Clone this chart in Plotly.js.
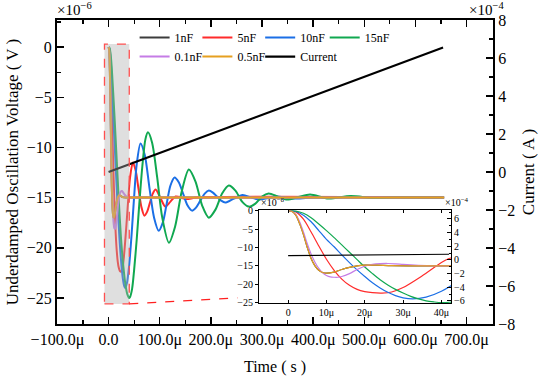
<!DOCTYPE html>
<html>
<head>
<meta charset="utf-8">
<script src="https://cdn.plot.ly/plotly-3.0.1.min.js"></script>
<style>html,body{margin:0;padding:0;background:#fff;}#chart{width:550px;height:380px;}</style>
</head>
<body>
<div id="chart"></div>
<script>
// ---- data (time in µs, voltage in 1e-6 V, current in 1e-4 A) ----
const seriesNames = ["1nF", "5nF", "10nF", "15nF", "0.1nF", "0.5nF"];

const t05 = [0, 1, 2, 3, 4, 5, 6, 7, 8, 9, 10, 12, 14, 16, 18, 20, 23, 27, 35, 50, 656];
const v05 = [0, -0.2, -1.2, -3.5, -6.5, -10, -13, -15, -16.2, -16.8, -17, -16.7, -16, -15.4, -15, -14.8, -14.8, -14.95, -15, -15, -15];

const t1 = [0, 1, 2, 3, 4, 5, 6, 7, 8, 9, 10, 12, 14, 16, 18, 20, 23, 27, 35, 50, 656];
const v1 = [0, -0.2, -1.2, -3.5, -6.5, -10, -13, -15, -16.2, -16.8, -17, -16.7, -16, -15.4, -15, -14.8, -14.8, -14.95, -15, -15, -15];

const t01 = [0, 1, 2, 3, 4, 5, 6, 7, 8, 9, 10, 11, 12, 13, 14, 16, 18, 20, 22, 24, 26, 28, 30, 34, 38, 42, 60, 656];
const v01 = [0, -0.2, -1, -3, -5.8, -9, -11.8, -14, -15.7, -16.9, -17.6, -18, -18.1, -18.1, -17.9, -17.1, -16, -15.1, -14.6, -14.4, -14.35, -14.45, -14.6, -14.85, -15, -15, -15, -15];

const t5 = [0, 2, 4, 6, 8, 10, 12, 14, 16, 18, 20, 22, 24.5, 27, 30, 35, 40, 42, 47.5, 53, 58.5, 64.5, 70, 75.5, 81, 86.5, 92, 101.5, 111, 121, 131, 152, 173, 656];
const v5 = [0, -0.3, -2.3, -5.8, -9.6, -13.2, -16.2, -18.6, -20.3, -21.4, -22, -22.3, -22.4, -22.1, -20.9, -17.7, -14.1, -13, -11.5, -12.3, -14.1, -16, -16.8, -16.4, -15.5, -14.6, -14.2, -15.05, -15.9, -15.4, -14.9, -15.15, -15, -15];

const t10 = [0, 2, 4, 6, 8, 10, 12, 14, 16, 18, 20, 22, 24, 26, 28, 30, 32.5, 36, 40, 45, 50, 55, 62.5, 71, 80, 89, 98, 106, 113.5, 121, 129, 137.5, 146, 154.5, 163, 171, 179.5, 188, 196, 204, 212, 220, 228, 245, 262, 279, 295, 312, 329, 346, 362, 400, 656];
const v10 = [0, -0.2, -1.2, -3, -5.4, -7.8, -9.8, -12, -14.1, -16.1, -17.9, -19.6, -21, -22.2, -23.1, -23.7, -24, -23.5, -21.9, -18.7, -14.9, -11.7, -9.6, -10.8, -14.05, -17, -18.3, -17.5, -15.65, -13.8, -13, -13.5, -14.65, -15.8, -16.3, -16, -15.3, -14.6, -14.3, -14.5, -14.9, -15.3, -15.5, -15.1, -14.75, -15, -15.2, -15.05, -14.9, -15, -15.1, -15, -15];

const t15 = [0, 2, 4, 6, 8, 10, 12, 14, 16, 18, 20, 22, 24, 26, 28, 30, 32, 34, 36, 38, 40, 42, 46, 50, 55, 60, 66, 72, 77, 85, 95, 105, 118, 130, 143, 157, 170, 183, 196, 209, 222, 235, 248, 261, 274, 287, 300, 313, 331, 349, 371, 394, 430, 473, 520, 560, 656];
const v15 = [0, -0.1, -0.7, -1.9, -3.6, -5.4, -7.3, -9.3, -11.3, -13.3, -15.3, -17.1, -18.8, -20.2, -21.4, -22.4, -23.3, -24, -24.5, -24.8, -25, -24.9, -24.1, -22.2, -19.2, -15.7, -11.9, -9.2, -8.5, -9.5, -12.95, -17, -19.5, -17.9, -14.4, -12.2, -13.4, -15.8, -17, -16.2, -14.6, -13.8, -14.3, -15.4, -15.9, -15.6, -14.9, -14.6, -14.9, -15.2, -14.95, -14.7, -15.1, -14.85, -15.05, -15, -15];

const tCurrent = [0, 654];
const iCurrent = [0.0, 6.55];

// current as drawn inside the zoomed inset
const tCurrentInset = [0, 42];
const iCurrentInset = [0.63, 0.83];

const mainXTicks = [-100, 0, 100, 200, 300, 400, 500, 600, 700];
const mainXTickText = ["\u2212100.0\u03bc", "0.0", "100.0\u03bc", "200.0\u03bc", "300.0\u03bc", "400.0\u03bc", "500.0\u03bc", "600.0\u03bc", "700.0\u03bc"];
const insetXTicks = [0, 10, 20, 30, 40];
const insetXTickText = ["0", "10\u03bc", "20\u03bc", "30\u03bc", "40\u03bc"];

// ---- styling ----
const colors = {"1nF": "#3c3c3c", "5nF": "#ff2b2b", "10nF": "#1b6fe6", "15nF": "#10a850", "0.1nF": "#c57ce6", "0.5nF": "#e6a020"};
const FONT = "Liberation Serif";

const seriesT = {"1nF": t1, "5nF": t5, "10nF": t10, "15nF": t15, "0.1nF": t01, "0.5nF": t05};
const seriesV = {"1nF": v1, "5nF": v5, "10nF": v10, "15nF": v15, "0.1nF": v01, "0.5nF": v05};
// legend column for each entry (legend grid: 4 columns x 2 rows)
const legendOf = {"1nF": "legend", "0.1nF": "legend", "5nF": "legend2", "0.5nF": "legend2", "10nF": "legend3", "Current": "legend3", "15nF": "legend4"};

const traces = [];
seriesNames.forEach(n => {
  traces.push({
    x: seriesT[n], y: seriesV[n], name: n, type: "scatter", mode: "lines",
    line: {color: colors[n], width: 2, shape: "spline", smoothing: 0.8},
    xaxis: "x", yaxis: "y", legend: legendOf[n]
  });
});
traces.push({
  x: tCurrent, y: iCurrent, name: "Current", type: "scatter", mode: "lines",
  line: {color: "#000", width: 2.2}, xaxis: "x", yaxis: "y2", legend: legendOf["Current"]
});
// inset traces
seriesNames.forEach(n => {
  traces.push({
    x: seriesT[n], y: seriesV[n], name: n, showlegend: false, type: "scatter", mode: "lines",
    line: {color: colors[n], width: 1.2, shape: "spline", smoothing: 0.8},
    xaxis: "x2", yaxis: "y3"
  });
});
traces.push({
  x: tCurrentInset, y: iCurrentInset, name: "Current", showlegend: false, type: "scatter", mode: "lines",
  line: {color: "#000", width: 1.2}, xaxis: "x2", yaxis: "y4"
});

const tickFont = {family: FONT, size: 16, color: "#000"};
const insetFont = {family: FONT, size: 10, color: "#000"};

function legendAt(x) {
  return {
    orientation: "v", x: x, y: 0.99, xanchor: "left", yanchor: "top",
    bgcolor: "rgba(0,0,0,0)", borderwidth: 0, itemwidth: 30, tracegroupgap: 0,
    font: {family: FONT, size: 12, color: "#000"}
  };
}

const layout = {
  width: 550, height: 380,
  margin: {l: 57, r: 57, t: 20, b: 56},
  paper_bgcolor: "#fff", plot_bgcolor: "#fff",
  font: {family: FONT, color: "#000"},
  showlegend: true,
  xaxis: {
    domain: [0, 1], range: [-100.8, 751.6],
    tickmode: "array", tickvals: mainXTicks, ticktext: mainXTickText,
    ticks: "inside", ticklen: 7, tickwidth: 1.5, tickcolor: "#000",
    minor: {tickmode: "array", tickvals: [-50, 50, 150, 250, 350, 450, 550, 650, 750], ticks: "inside", ticklen: 4, tickcolor: "#000", tickwidth: 1.2},
    showline: true, linecolor: "#000", linewidth: 2, mirror: "ticks",
    showgrid: false, zeroline: false, tickfont: tickFont,
    title: {text: "Time ( s )", font: {family: FONT, size: 16}, standoff: 13}
  },
  yaxis: {
    domain: [0, 1], range: [-27.6, 2.7],
    tickmode: "array", tickvals: [0, -5, -10, -15, -20, -25],
    ticks: "inside", ticklen: 7, tickwidth: 1.5, tickcolor: "#000",
    minor: {tickmode: "array", tickvals: [2.5, -2.5, -7.5, -12.5, -17.5, -22.5, -27.5], ticks: "inside", ticklen: 4, tickcolor: "#000", tickwidth: 1.2},
    showline: true, linecolor: "#000", linewidth: 2,
    showgrid: false, zeroline: false, tickfont: tickFont,
    title: {text: "Underdamped Oscillation Voltage ( V )", font: {family: FONT, size: 17}, standoff: 4}
  },
  yaxis2: {
    overlaying: "y", side: "right", anchor: "x", range: [-8, 8],
    tickmode: "array", tickvals: [8, 6, 4, 2, 0, -2, -4, -6, -8],
    ticks: "inside", ticklen: 7, tickwidth: 1.5, tickcolor: "#000",
    minor: {tickmode: "array", tickvals: [7, 5, 3, 1, -1, -3, -5, -7], ticks: "inside", ticklen: 4, tickcolor: "#000", tickwidth: 1.2},
    showline: true, linecolor: "#000", linewidth: 2,
    showgrid: false, zeroline: false, tickfont: tickFont,
    title: {text: "Current ( A )", font: {family: FONT, size: 17}, standoff: 8}
  },
  xaxis2: {
    domain: [0.4633, 0.9037], anchor: "y3", range: [-7.6, 42.5],
    tickmode: "array", tickvals: insetXTicks, ticktext: insetXTickText,
    ticks: "inside", ticklen: 3, tickcolor: "#000", tickwidth: 1,
    showline: true, linecolor: "#000", linewidth: 1, mirror: "ticks",
    showgrid: false, zeroline: false, tickfont: insetFont
  },
  yaxis3: {
    domain: [0.0691, 0.375], anchor: "x2", range: [-25.1, 0.2],
    tickmode: "array", tickvals: [0, -5, -10, -15, -20, -25],
    ticks: "outside", ticklen: 3, tickcolor: "#000", tickwidth: 1,
    showline: true, linecolor: "#000", linewidth: 1,
    showgrid: false, zeroline: false, tickfont: insetFont
  },
  yaxis4: {
    overlaying: "y3", side: "right", anchor: "x2", range: [-6.3, 7.3],
    tickmode: "array", tickvals: [6, 4, 2, 0, -2, -4, -6],
    ticks: "inside", ticklen: 4, tickcolor: "#000", tickwidth: 1,
    minor: {tickmode: "array", tickvals: [7, 5, 3, 1, -1, -3, -5], ticks: "inside", ticklen: 2, tickcolor: "#000"},
    showline: true, linecolor: "#000", linewidth: 1,
    showgrid: false, zeroline: false, tickfont: insetFont
  },
  legend: legendAt(0.178),
  legend2: legendAt(0.322),
  legend3: legendAt(0.466),
  legend4: legendAt(0.614),
  shapes: [
    {type: "rect", xref: "x", yref: "y", x0: -8, x1: 40.5, y0: -25.6, y1: 0.3,
     fillcolor: "rgba(175,175,175,0.4)", line: {color: "#ff5050", width: 1.3, dash: "dash"}, layer: "above"},
    {type: "line", xref: "x", yref: "y", x0: 40.5, y0: -25.6, x1: 252, y1: -25.0,
     line: {color: "#ff2020", width: 1.3, dash: "dash"}, layer: "above"}
  ],
  annotations: [
    {xref: "paper", yref: "paper", x: -0.005, y: 1.0, xanchor: "left", yanchor: "bottom",
     text: "\u00d710<sup>\u22126</sup>", showarrow: false, font: {family: FONT, size: 15, color: "#000"}},
    {xref: "paper", yref: "paper", x: 0.94, y: 1.0, xanchor: "left", yanchor: "bottom",
     text: "\u00d710<sup>\u22124</sup>", showarrow: false, font: {family: FONT, size: 15, color: "#000"}},
    {xref: "paper", yref: "paper", x: 0.4633, y: 0.375, xanchor: "left", yanchor: "bottom",
     text: "\u00d710<sup>\u22126</sup>", showarrow: false, font: {family: FONT, size: 10, color: "#000"}},
    {xref: "paper", yref: "paper", x: 0.885, y: 0.375, xanchor: "left", yanchor: "bottom",
     text: "\u00d710<sup>\u22124</sup>", showarrow: false, font: {family: FONT, size: 10, color: "#000"}}
  ]
};

Plotly.newPlot("chart", traces, layout, {displayModeBar: false, staticPlot: true});
</script>
</body>
</html>
